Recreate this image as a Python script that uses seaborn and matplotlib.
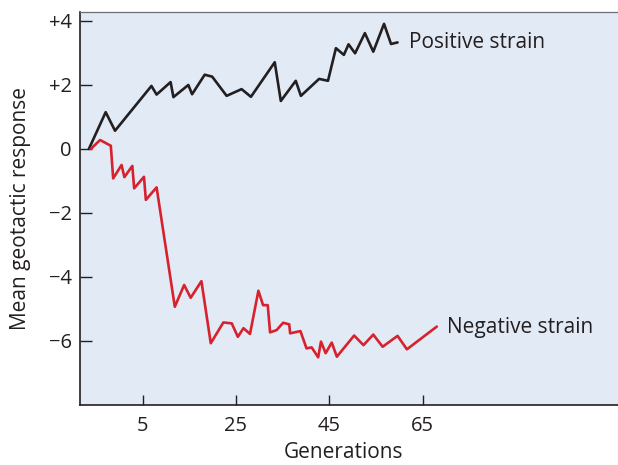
import numpy as np
import pandas as pd
import matplotlib
matplotlib.use("Agg")
import matplotlib.pyplot as plt
import seaborn as sns

# -----------------------------
# Data
# -----------------------------
pos_gen = [-6.5, -2.9, -0.9, 6.9, 8.0, 11.0, 11.6, 14.8, 15.6, 18.3, 19.9, 23.0,
           26.2, 28.2, 33.3, 34.6, 37.8, 38.9, 42.8, 44.7, 46.4, 48.1, 49.1,
           50.5, 52.6, 54.4, 56.7, 58.2, 59.6]
pos_resp = [0.0, 1.15, 0.57, 1.97, 1.70, 2.09, 1.62, 2.00, 1.71, 2.32, 2.26, 1.66,
            1.87, 1.63, 2.71, 1.50, 2.13, 1.66, 2.19, 2.13, 3.15, 2.94, 3.27,
            2.99, 3.62, 3.04, 3.91, 3.28, 3.33]

neg_gen = [-6.1, -4.1, -1.8, -1.3, 0.5, 1.1, 2.8, 3.2, 5.3, 5.7, 8.0, 11.9, 13.9,
           15.3, 17.6, 19.6, 22.3, 24.1, 25.4, 26.6, 28.0, 29.8, 30.8, 31.8, 32.3,
           33.7, 35.1, 36.4, 36.6, 38.8, 40.1, 41.2, 42.6, 43.2, 44.2, 45.5, 46.6,
           50.3, 52.3, 54.4, 56.4, 59.6, 61.6, 68.0]
neg_resp = [0.0, 0.28, 0.10, -0.92, -0.50, -0.88, -0.53, -1.23, -0.87, -1.59, -1.20,
            -4.93, -4.25, -4.65, -4.13, -6.07, -5.42, -5.45, -5.87, -5.60, -5.78,
            -4.43, -4.88, -4.88, -5.73, -5.66, -5.43, -5.48, -5.76, -5.69, -6.23,
            -6.20, -6.51, -6.02, -6.38, -6.05, -6.49, -5.83, -6.13, -5.80, -6.18,
            -5.84, -6.26, -5.55]

x_ticks = [5, 25, 45, 65]
y_ticks = [4, 2, 0, -2, -4, -6]
y_tick_labels = ["+4", "+2", "0", "\u22122", "\u22124", "\u22126"]

strain_names = ["Positive strain", "Negative strain"]
strain_colors = {"Positive strain": "#231f20", "Negative strain": "#d7222e"}

df = pd.concat([
    pd.DataFrame({"Generations": pos_gen, "Response": pos_resp, "Strain": strain_names[0]}),
    pd.DataFrame({"Generations": neg_gen, "Response": neg_resp, "Strain": strain_names[1]}),
], ignore_index=True)

# -----------------------------
# Plot
# -----------------------------
sns.set_style("ticks")
plt.rcParams["font.family"] = ["Open Sans", "DejaVu Sans"]

fig = plt.figure(figsize=(6.18, 4.65), dpi=100)
ax = fig.add_axes([80 / 618, 1 - 405 / 465, 538 / 618, 393 / 465])
ax.set_facecolor("#e2eaf5")

sns.lineplot(data=df, x="Generations", y="Response", hue="Strain",
             palette=strain_colors, linewidth=1.9, sort=False,
             estimator=None, legend=False, ax=ax)

ax.set_xlim(-8.4, 106.8)
ax.set_ylim(-8.0, 4.28)

ax.set_xticks(x_ticks)
ax.set_xticklabels([str(t) for t in x_ticks])
ax.set_yticks(y_ticks)
ax.set_yticklabels(y_tick_labels)
ax.tick_params(axis="both", direction="in", labelsize=14.5, colors="#231f20",
               width=1.0)
ax.tick_params(axis="y", length=8.5, pad=6)
ax.tick_params(axis="x", length=7, pad=8)

for side in ["left", "bottom"]:
    ax.spines[side].set_color("#231f20")
    ax.spines[side].set_linewidth(1.2)
ax.spines["top"].set_color("#6d6e71")
ax.spines["top"].set_linewidth(0.9)
ax.spines["right"].set_visible(False)

ax.set_xlabel("Generations", fontsize=15, color="#231f20")
ax.set_ylabel("Mean geotactic response", fontsize=15, color="#231f20")
ax.xaxis.set_label_coords(0.49, -0.095)
ax.yaxis.set_label_coords(-0.092, 0.5)

# Line labels at line ends
ax.annotate(strain_names[0], xy=(pos_gen[-1], pos_resp[-1]), xytext=(8, 0),
            textcoords="offset points", va="center", ha="left",
            fontsize=15, color="#231f20")
ax.annotate(strain_names[1], xy=(neg_gen[-1], neg_resp[-1]), xytext=(7, -1),
            textcoords="offset points", va="center", ha="left",
            fontsize=15, color="#231f20")

fig.savefig("out.png", dpi=100, facecolor="white")
